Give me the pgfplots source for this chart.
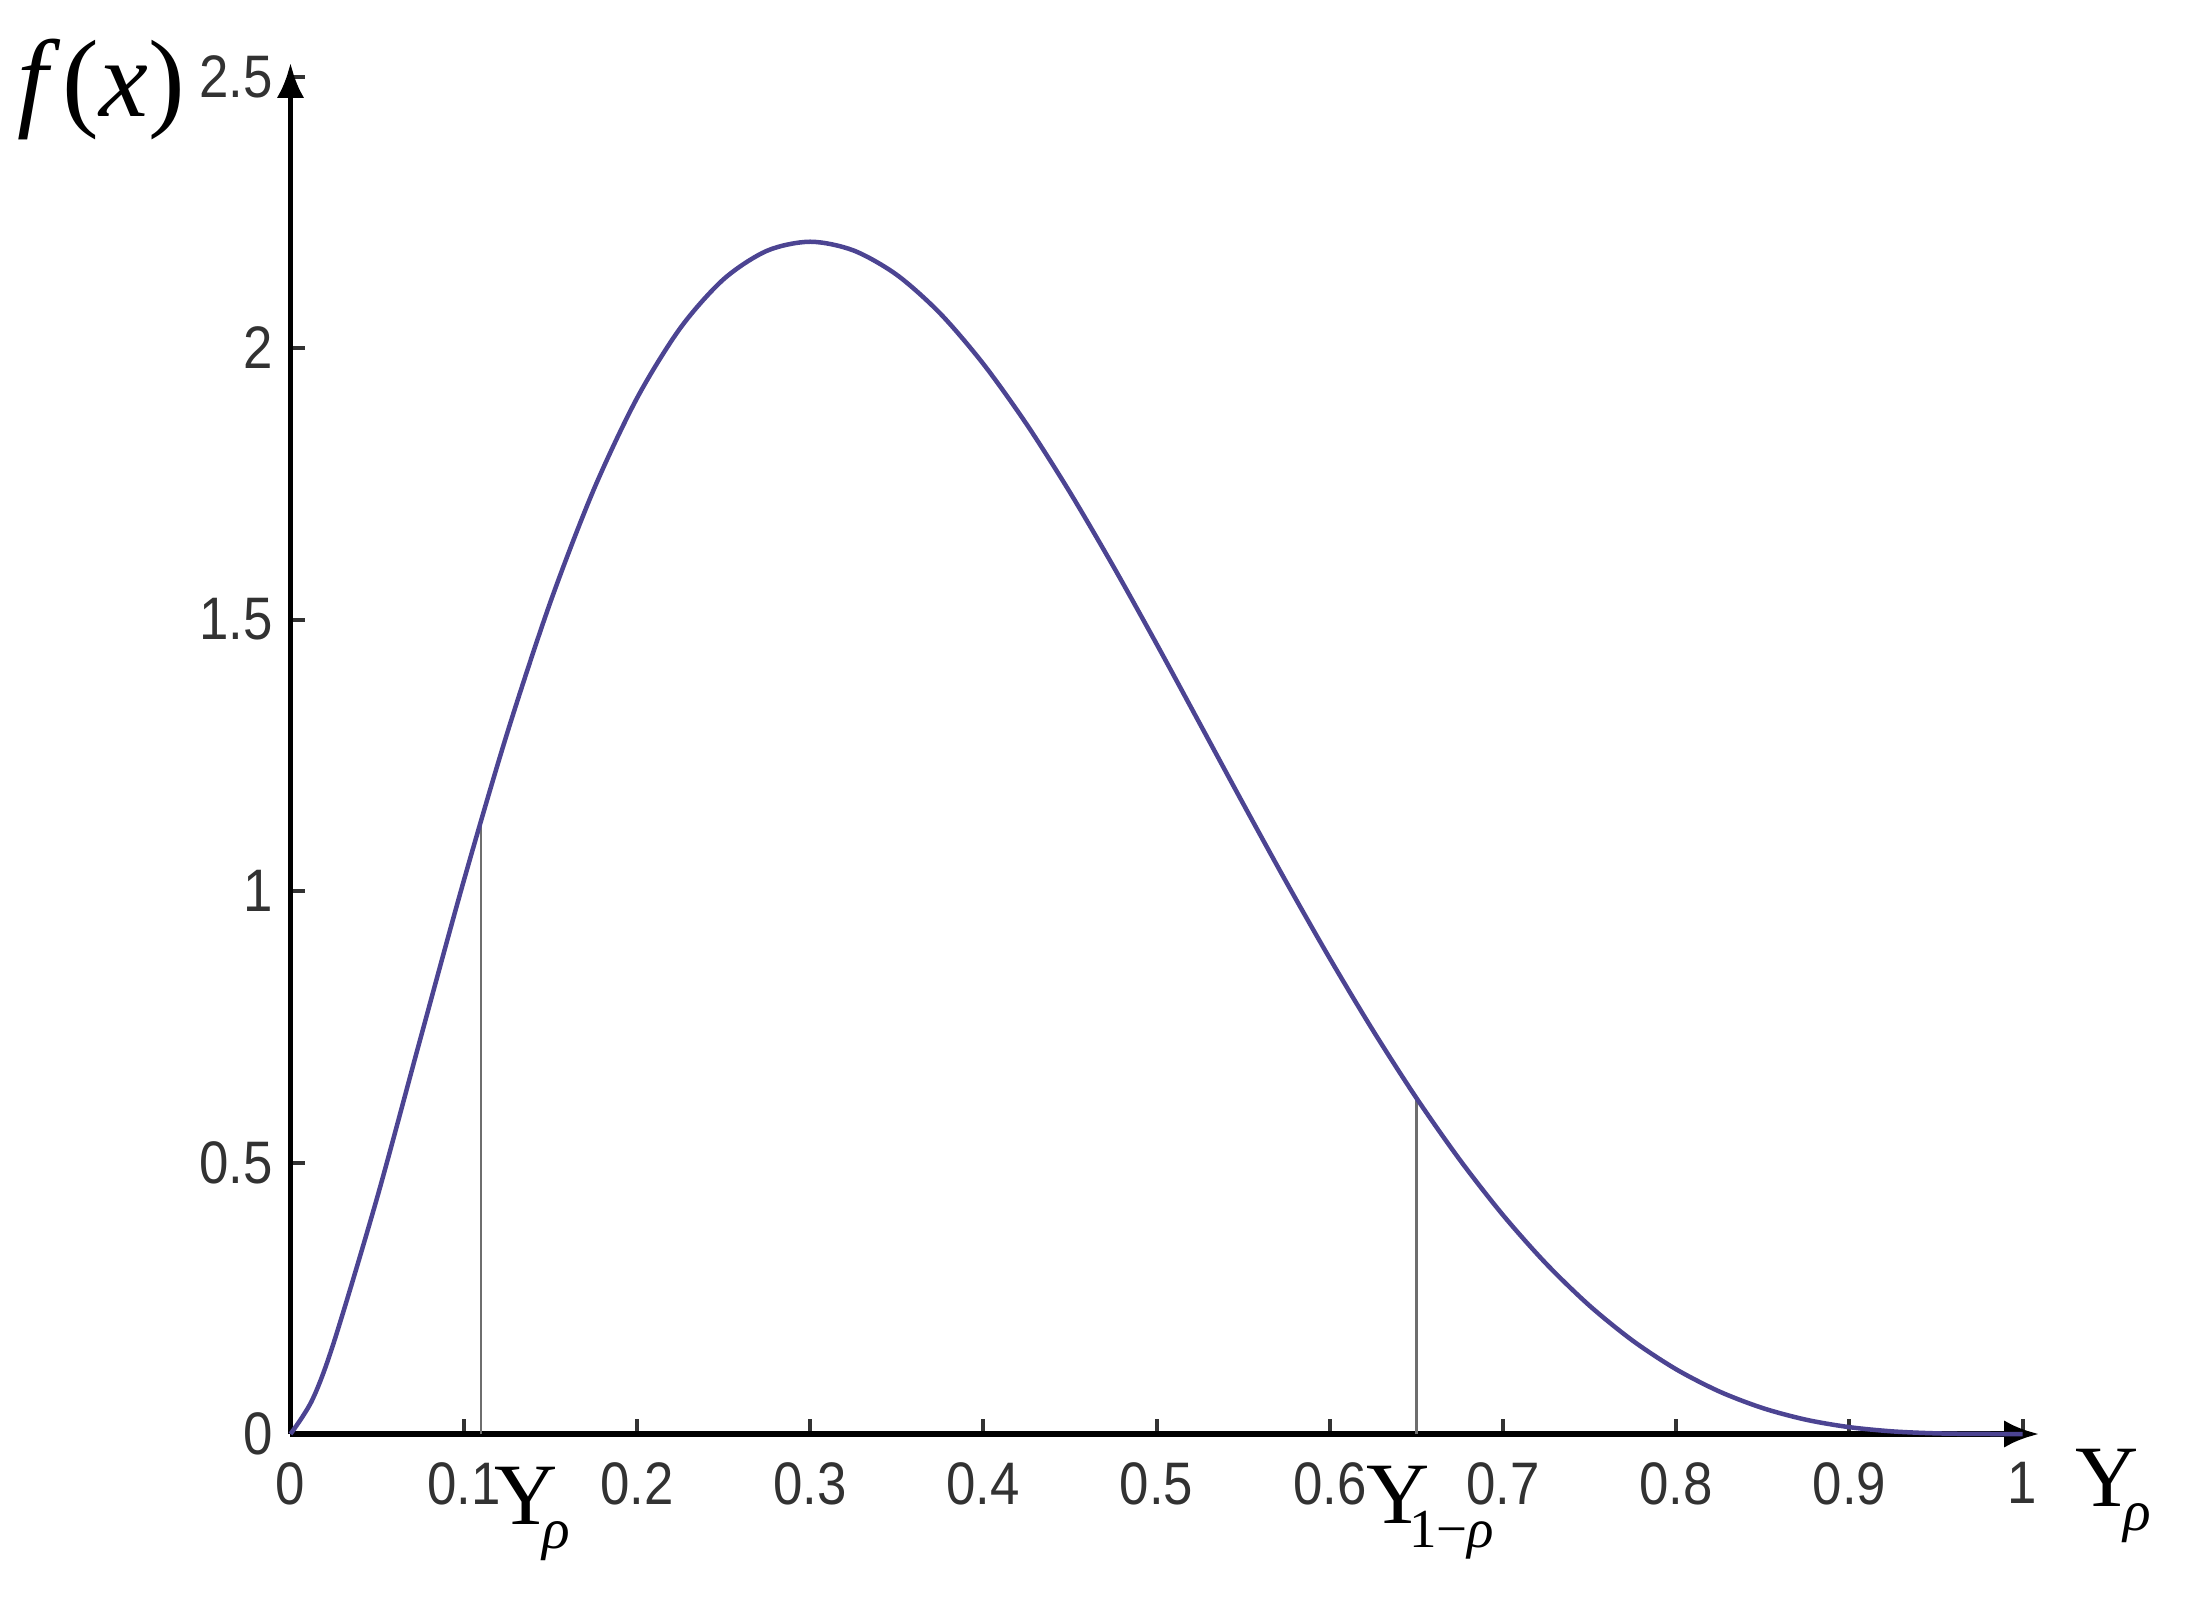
\documentclass[border=0pt]{standalone}
\usepackage{fontspec}
\setsansfont{Liberation Sans}
\newfontfamily\narrowsans[FakeStretch=0.88]{Liberation Sans}
\newfontfamily\tnr{Liberation Serif}
\usepackage{pgfplots}
\pgfplotsset{compat=1.18}
\usetikzlibrary{arrows.meta}
\definecolor{curvecol}{RGB}{76,68,146}
\definecolor{ticklab}{RGB}{50,50,50}
\definecolor{vline}{RGB}{110,110,110}
\begin{document}
\begin{tikzpicture}
\useasboundingbox (-58.1pt,-34pt) rectangle (379.9pt,286.8pt);
\begin{axis}[
  at={(0,0)}, anchor=south west,
  scale only axis, width=349.7pt, height=274.2pt,
  xmin=0, xmax=1.0095, ymin=0, ymax=2.525,
  axis lines=left,
  axis line style={line width=1.1pt, -{Latex[length=7pt,width=5.5pt]}},
  xtick={0,0.1,0.2,0.3,0.4,0.5,0.6,0.7,0.8,0.9,1},
  ytick={0,0.5,1,1.5,2,2.5},
  tick align=inside, major tick length=3pt,
  tick style={line width=0.8pt, color=ticklab},
  tick label style={font=\narrowsans\fontsize{12}{14}\selectfont, text=ticklab},
  /pgf/number format/assume math mode=true,
  xticklabel style={yshift=-2.2pt},
  yticklabel style={xshift=0pt},
  clip=false,
]
\addplot[vline, line width=0.5pt] coordinates {(0.11,0) (0.11,1.1298)};
\addplot[vline, line width=0.5pt] coordinates {(0.65,0) (0.65,0.6190)};
\addplot[curvecol, line width=0.9pt, smooth] coordinates {
(0,0) (0.0125,0.0623) (0.025,0.1685) (0.05,0.4351) (0.075,0.7281)
(0.1,1.0184) (0.125,1.2897) (0.15,1.5317) (0.175,1.7387) (0.2,1.9074)
(0.225,2.0366) (0.25,2.1266) (0.275,2.1790) (0.3,2.1958) (0.325,2.1798)
(0.35,2.1349) (0.375,2.0640) (0.4,1.9708) (0.425,1.8597) (0.45,1.7343)
(0.475,1.5982) (0.5,1.4552) (0.525,1.3082) (0.55,1.1609) (0.575,1.0160)
(0.6,0.8760) (0.625,0.7431) (0.65,0.6190) (0.675,0.5054) (0.7,0.4033)
(0.725,0.3135) (0.75,0.2363) (0.775,0.1717) (0.8,0.1192) (0.825,0.0782)
(0.85,0.0477) (0.875,0.0263) (0.9,0.0126) (0.925,0.0048) (0.95,0.0012)
(0.975,0.0001) (1,0)
};
\end{axis}
\node[anchor=center, inner sep=0pt, font=\tnr\fontsize{22}{22}\selectfont] at (-37.9pt,268.8pt) {\itshape f\/\kern0.5pt\upshape(\itshape x\/\upshape)};
\node[anchor=base west, inner sep=0pt] at (40.5pt,-18pt) {\tnr\fontsize{17.5}{17.5}\selectfont Y\kern-3pt\raisebox{-4.8pt}{\fontsize{11.5}{11.5}\selectfont\itshape ρ}};
\node[anchor=base west, inner sep=0pt] at (214.9pt,-17.8pt) {\tnr\fontsize{17.5}{17.5}\selectfont Y\kern-4pt\raisebox{-4.8pt}{\fontsize{11}{11}\selectfont 1−\itshape ρ}};
\node[anchor=base west, inner sep=0pt] at (356.7pt,-14.4pt) {\tnr\fontsize{17.5}{17.5}\selectfont Y\kern-3pt\raisebox{-4.8pt}{\fontsize{11.5}{11.5}\selectfont\itshape ρ}};
\end{tikzpicture}
\end{document}
